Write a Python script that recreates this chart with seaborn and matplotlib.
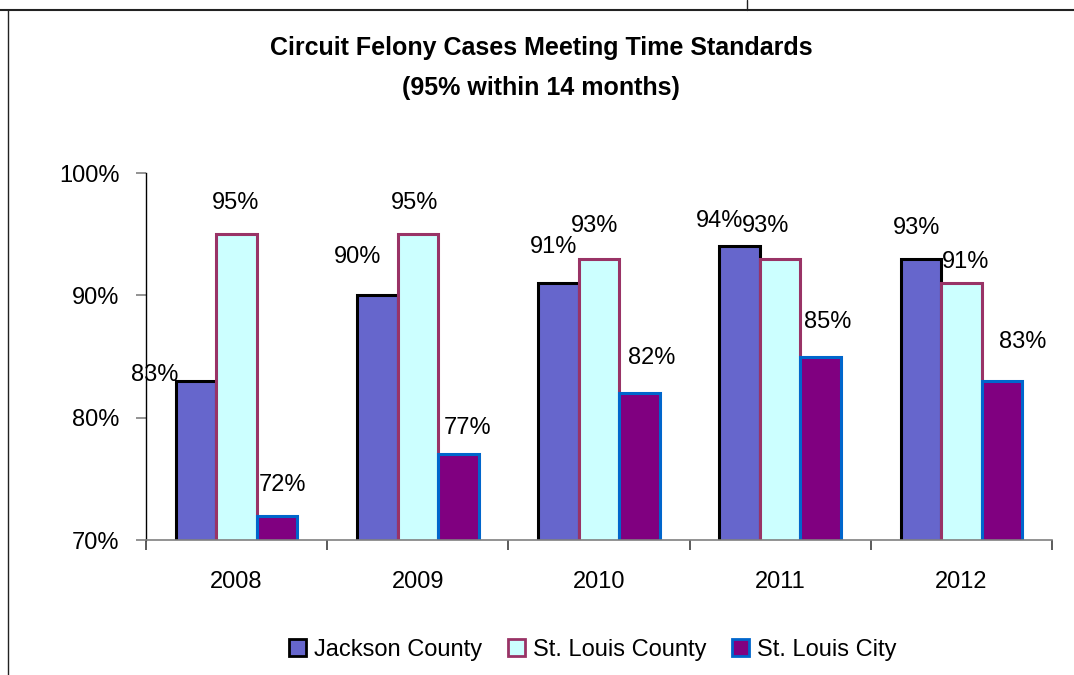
import matplotlib
matplotlib.use("Agg")
import matplotlib.pyplot as plt
import seaborn as sns
import pandas as pd
from matplotlib.lines import Line2D
from matplotlib.patches import Patch
from matplotlib.ticker import PercentFormatter, FixedLocator

# ---- data ----
years = ["2008", "2009", "2010", "2011", "2012"]
series = ["Jackson County", "St. Louis County", "St. Louis City"]
jackson = [83, 90, 91, 94, 93]
stl_county = [95, 95, 93, 93, 91]
stl_city = [72, 77, 82, 85, 83]
title_line1 = "Circuit Felony Cases Meeting Time Standards"
title_line2 = "(95% within 14 months)"

# label placement offsets (pixels, relative to bar top centre), per series
label_dx = [[-41, -20, -5, -20, -4], [-1, -3, -4, -15, 4], [5, 9, 12, 7, 21]]
label_dy = [[6, 38, 36, 25, 31], [31, 31, 33, 33, 21], [31, 26, 35, 35, 39]]

fills = ["#6666CC", "#CCFFFF", "#800080"]
edges = ["#000000", "#993366", "#0066CC"]

sns.set_theme(style="white")
plt.rcParams['font.family'] = ['Liberation Sans', 'DejaVu Sans']
plt.rcParams['text.color'] = 'black'

W, H = 1074, 675
fig = plt.figure(figsize=(W / 100, H / 100), dpi=100)
ax = fig.add_axes([146 / W, 1 - 540 / H, (1052 - 146) / W, (540 - 173) / H])

df = pd.DataFrame({
    "Year": years * 3,
    "Series": [s for s in series for _ in years],
    "Value": jackson + stl_county + stl_city,
})

sns.barplot(data=df, x="Year", y="Value", hue="Series", order=years,
            hue_order=series, palette=fills, saturation=1, width=0.67,
            gap=0, errorbar=None, legend=False, ax=ax)

FS = 17
for i, cont in enumerate(ax.containers):
    for j, bar in enumerate(cont.patches):
        bar.set_edgecolor(edges[i])
        bar.set_linewidth(2.2)
        x = bar.get_x() + bar.get_width() / 2
        y = bar.get_height() + bar.get_y()
        ax.annotate(f"{bar.get_height():.0f}%", (x, y),
                    xytext=(label_dx[i][j], label_dy[i][j]),
                    textcoords="offset pixels", ha="center", va="center",
                    fontsize=FS, color="black")

ax.set_ylim(70, 100)
ax.set_xlim(-0.5, len(years) - 0.5)
ax.yaxis.set_major_locator(FixedLocator([70, 80, 90, 100]))
ax.yaxis.set_major_formatter(PercentFormatter(decimals=0))
ax.set_xlabel("")
ax.set_ylabel("")

for s in ["top", "right"]:
    ax.spines[s].set_visible(False)
ax.spines["left"].set_color("black")
ax.spines["left"].set_linewidth(1.0)
ax.spines["bottom"].set_color("#808080")
ax.spines["bottom"].set_linewidth(1.2)

ax.tick_params(axis="y", which="major", length=7, width=1.2, color="#808080",
               direction="out", left=True, labelsize=FS, pad=12, labelcolor="black")
ax.tick_params(axis="x", which="major", length=0, labelsize=FS, pad=22,
               labelcolor="black")
ax.set_xticks([k - 0.5 for k in range(len(years) + 1)], minor=True)
ax.tick_params(axis="x", which="minor", length=7, width=1.2, color="#404040",
               direction="out", bottom=True)

# title
fig.text(541 / W, 1 - 48 / H, title_line1, ha="center", va="center",
         fontsize=18, fontweight="bold", color="black")
fig.text(541 / W, 1 - 88 / H, title_line2, ha="center", va="center",
         fontsize=18, fontweight="bold", color="black")

# legend
handles = [Patch(facecolor=fills[i], edgecolor=edges[i], linewidth=2.0)
           for i in range(3)]
leg = fig.legend(handles, series, loc="center", bbox_to_anchor=(593 / W, 1 - 650 / H),
                 ncol=3, frameon=False, fontsize=FS, handlelength=0.7,
                 handleheight=0.7, handletextpad=0.35, columnspacing=1.1)
for t in leg.get_texts():
    t.set_color("black")

# surrounding frame lines
fig.add_artist(Line2D([0, 1], [1 - 9.5 / H, 1 - 9.5 / H], transform=fig.transFigure,
                      color="#222222", linewidth=1.5))
fig.add_artist(Line2D([8 / W, 8 / W], [0, 1 - 9.5 / H], transform=fig.transFigure,
                      color="#222222", linewidth=1.0))
fig.add_artist(Line2D([747 / W, 747 / W], [1 - 9.5 / H, 1], transform=fig.transFigure,
                      color="#222222", linewidth=1.0))

fig.savefig("out.png", dpi=100, facecolor="white")
